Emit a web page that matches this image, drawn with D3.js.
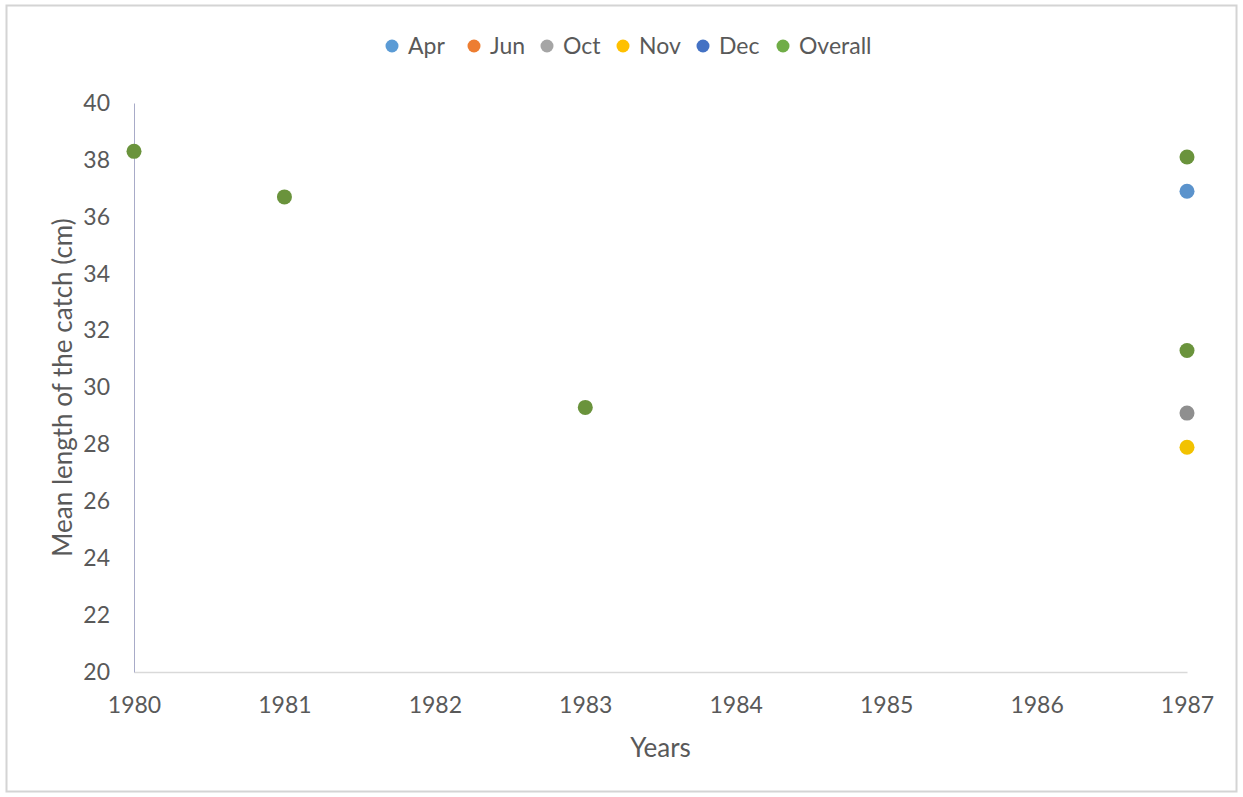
<!DOCTYPE html>
<html>
<head>
<meta charset="utf-8">
<script src="https://cdn.jsdelivr.net/npm/d3@7"></script>
<style>
  html, body { margin: 0; padding: 0; background: #ffffff; }
  svg { display: block; }
  text { font-family: Lato, "Open Sans", sans-serif; fill: #595959; }
</style>
</head>
<body>
<script>
// Mean length of the catch by year, per sampling month and overall
const yearTicks = [1980, 1981, 1982, 1983, 1984, 1985, 1986, 1987];
const valueTicks = [20, 22, 24, 26, 28, 30, 32, 34, 36, 38, 40];

const seriesNames = ["Apr", "Jun", "Oct", "Nov", "Dec", "Overall"];
const seriesColors = ["#5b9bd5", "#ed7d31", "#a5a5a5", "#ffc000", "#4472c4", "#70ad47"];

const aprYears = [1987];
const aprValues = [36.9];
const junYears = [];
const junValues = [];
const octYears = [1987];
const octValues = [29.1];
const novYears = [1987];
const novValues = [27.9];
const decYears = [];
const decValues = [];
const overallYears = [1980, 1981, 1983, 1987, 1987];
const overallValues = [38.3, 36.7, 29.3, 38.1, 31.3];

const W = 1243, H = 797;
const margin = { left: 134, right: 56, top: 103, bottom: 125 };

const svg = d3.select("body").append("svg")
  .attr("width", W).attr("height", H);

// outer chart frame
svg.append("rect")
  .attr("x", 6.5).attr("y", 5.5)
  .attr("width", W - 13).attr("height", H - 11)
  .attr("fill", "#ffffff")
  .attr("stroke", "#d4d4d4").attr("stroke-width", 2);

const x = d3.scaleLinear()
  .domain([1980, 1987])
  .range([margin.left, W - margin.right]);
const y = d3.scaleLinear()
  .domain([20, 40])
  .range([H - margin.bottom, margin.top]);

// x axis
const xAxis = svg.append("g")
  .attr("transform", `translate(0,${y(20)})`)
  .call(d3.axisBottom(x).tickValues(yearTicks).tickFormat(d3.format("d")).tickSize(0).tickPadding(25));
xAxis.select(".domain").attr("stroke", "#d9d9d9").attr("stroke-width", 1.5);
xAxis.selectAll("text").attr("font-size", 23).style("fill", "#595959");

// y axis
const yAxis = svg.append("g")
  .attr("transform", `translate(${x(1980)},0)`)
  .call(d3.axisLeft(y).tickValues(valueTicks).tickSize(0).tickPadding(24));
yAxis.select(".domain").attr("stroke", "#a8abc8").attr("stroke-width", 1);
yAxis.selectAll("text").attr("font-size", 23).style("fill", "#595959");

// axis titles
svg.append("text")
  .attr("x", (x(1980) + x(1987)) / 2)
  .attr("y", 757)
  .attr("text-anchor", "middle")
  .attr("font-size", 26)
  .text("Years");

svg.append("text")
  .attr("transform", `translate(72,${(y(20) + y(40)) / 2}) rotate(-90)`)
  .attr("text-anchor", "middle")
  .attr("font-size", 26)
  .text("Mean length of the catch (cm)");

// points
const seriesData = [
  [aprYears, aprValues],
  [junYears, junValues],
  [octYears, octValues],
  [novYears, novValues],
  [decYears, decValues],
  [overallYears, overallValues]
];
const pointColors = ["#5b93cc", "#ed7d31", "#8f8f8f", "#f2c200", "#4472c4", "#6a933c"];

seriesData.forEach(([yrs, vals], i) => {
  svg.append("g")
    .selectAll("circle")
    .data(yrs.map((yr, j) => ({ yr, v: vals[j] })))
    .join("circle")
    .attr("cx", d => x(d.yr))
    .attr("cy", d => y(d.v))
    .attr("r", 7.5)
    .attr("fill", pointColors[i]);
});

// legend
const legendX = [392, 474, 547, 623, 703, 783];
const legend = svg.append("g");
seriesNames.forEach((name, i) => {
  legend.append("circle")
    .attr("cx", legendX[i]).attr("cy", 46)
    .attr("r", 6.5)
    .attr("fill", seriesColors[i]);
  legend.append("text")
    .attr("x", legendX[i] + 16).attr("y", 46)
    .attr("dy", "0.35em")
    .attr("font-size", 23)
    .text(name);
});
</script>
</body>
</html>
